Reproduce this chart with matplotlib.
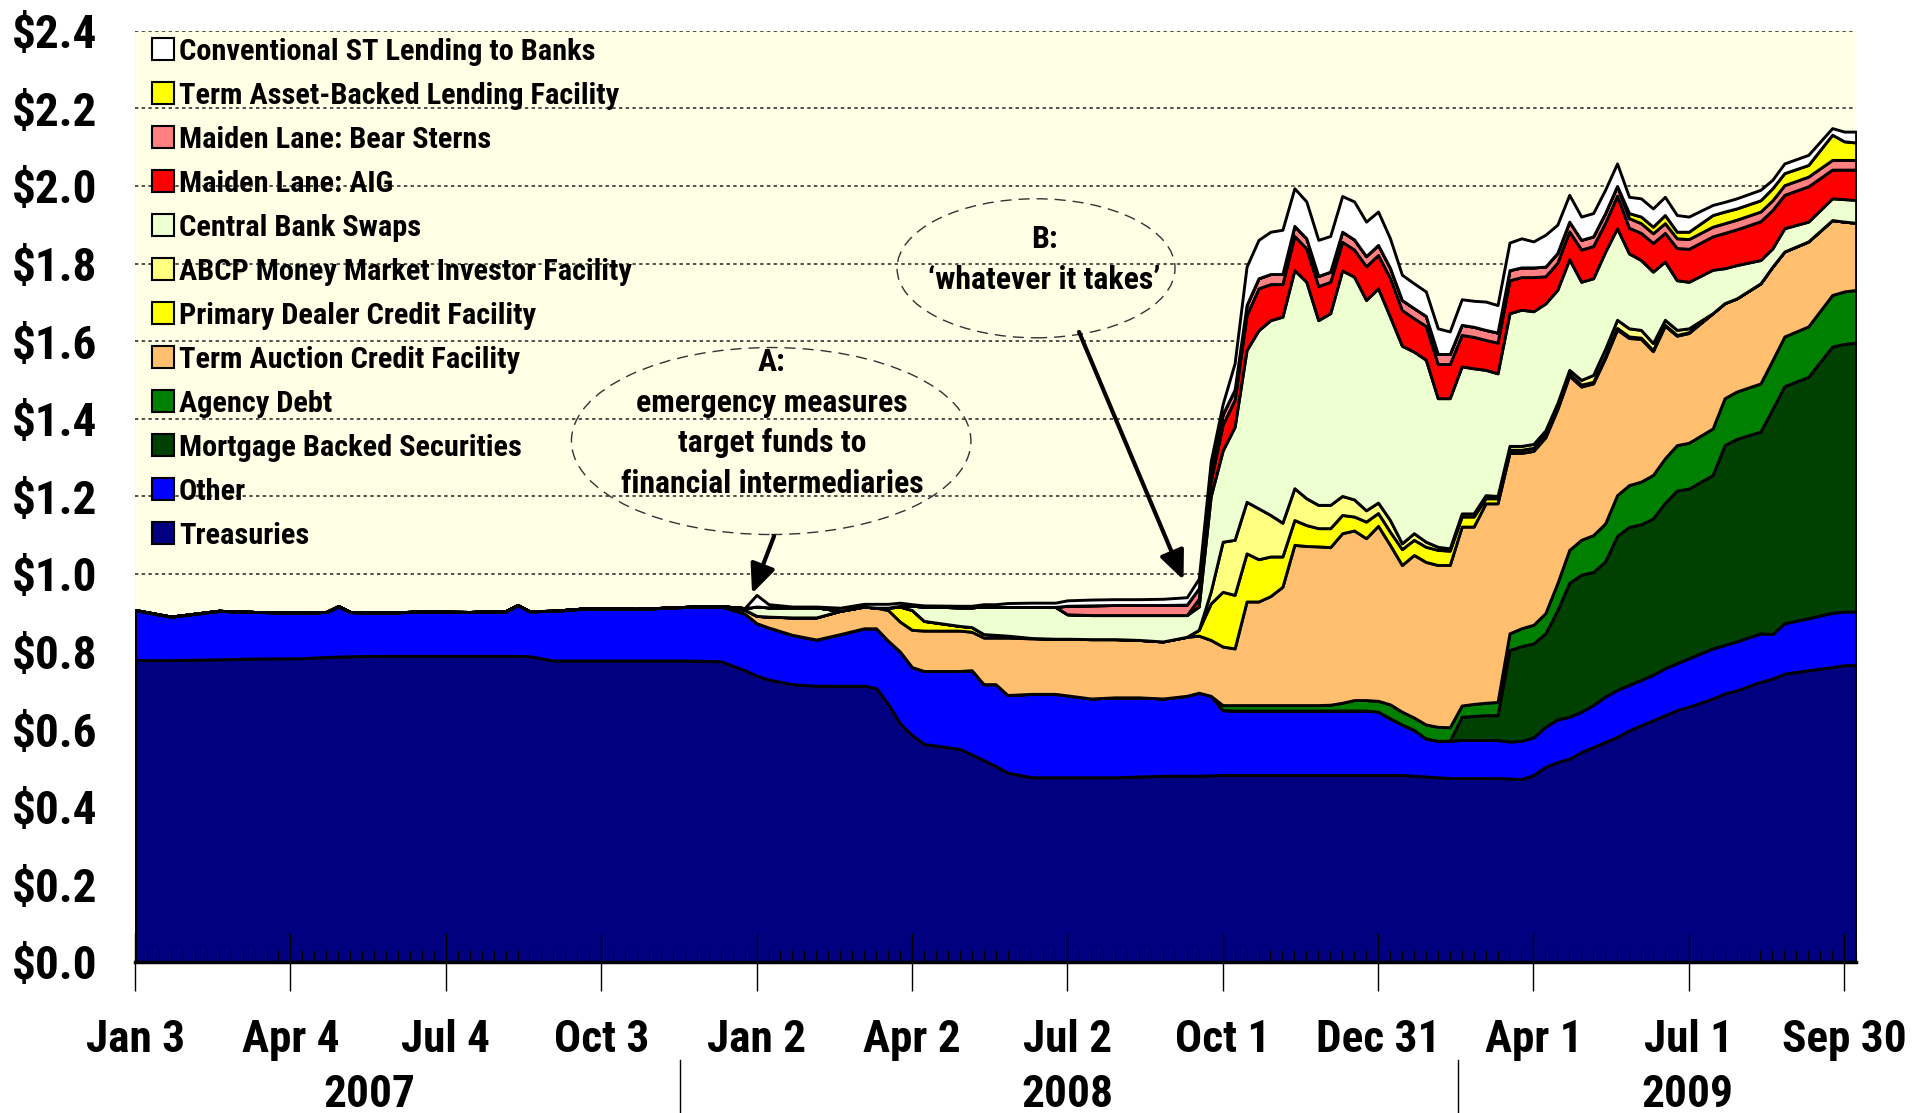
import numpy as np
import pandas as pd
import matplotlib
matplotlib.use("Agg")
import matplotlib.pyplot as plt
import matplotlib.dates as mdates
import matplotlib.transforms as mtransforms
from matplotlib.font_manager import FontProperties
from matplotlib.patches import Ellipse, Patch

# the source uses a tall, narrow bold grotesque
FAM = ['Roboto Condensed', 'Liberation Sans', 'DejaVu Sans']
plt.rcParams['font.family'] = FAM
plt.rcParams['font.weight'] = 'bold'

start = pd.Timestamp('2007-01-03')

weeks = ([0, 3, 7, 10, 14, 16, 17, 18, 20, 24, 28, 31, 32, 33, 35, 38, 42, 46, 49,
          51, 52, 53, 55, 57, 59, 61, 62, 63, 64, 65, 66, 69, 70, 71, 72, 73, 75, 77,
          78, 80, 82, 84, 86, 88, 89, 90]
         + list(range(91, 131))
         + [132, 133, 134, 136, 137, 138, 140, 142, 143, 144])

# $ trillions, bottom of the stack first
treasuries = [0.778, 0.778, 0.780, 0.782, 0.783, 0.786, 0.787, 0.788, 0.789, 0.789,
              0.789, 0.789, 0.789, 0.788, 0.777, 0.777, 0.777, 0.777, 0.775,
              0.752, 0.738, 0.728, 0.716, 0.712, 0.712, 0.712, 0.706, 0.665, 0.615,
              0.585, 0.562, 0.549, 0.535, 0.520, 0.505, 0.488, 0.476, 0.476, 0.476,
              0.476, 0.476, 0.478, 0.480, 0.480, 0.480, 0.481,
              0.482, 0.482, 0.482, 0.482, 0.482, 0.482, 0.482, 0.482, 0.482, 0.482,
              0.482, 0.482, 0.482, 0.482, 0.482, 0.482, 0.480, 0.478, 0.476, 0.474,
              0.474, 0.474, 0.474, 0.474, 0.473, 0.471, 0.482, 0.503, 0.515, 0.524,
              0.541, 0.554, 0.567, 0.580, 0.597, 0.610, 0.623, 0.636, 0.649, 0.658,
              0.679, 0.692, 0.700, 0.722, 0.730, 0.743, 0.752, 0.760, 0.765, 0.765]

other = [0.129, 0.112, 0.125, 0.120, 0.118, 0.116, 0.130, 0.114, 0.111, 0.114,
         0.113, 0.115, 0.131, 0.116, 0.128, 0.135, 0.133, 0.138, 0.142,
         0.146, 0.135, 0.134, 0.127, 0.119, 0.133, 0.148, 0.154, 0.163, 0.185,
         0.175, 0.188, 0.201, 0.217, 0.196, 0.211, 0.200, 0.215, 0.215, 0.211,
         0.203, 0.206, 0.204, 0.199, 0.206, 0.214, 0.205,
         0.167, 0.166, 0.166, 0.166, 0.166, 0.166, 0.166, 0.166, 0.166, 0.166,
         0.166, 0.166, 0.166, 0.163, 0.146, 0.130, 0.118, 0.098, 0.094, 0.096,
         0.098, 0.098, 0.098, 0.098, 0.095, 0.099, 0.097, 0.103, 0.110, 0.108,
         0.104, 0.108, 0.117, 0.121, 0.117, 0.117, 0.117, 0.121, 0.121, 0.125,
         0.129, 0.125, 0.126, 0.125, 0.115, 0.130, 0.134, 0.140, 0.138, 0.138]

mbs = ([0] * 46 + [0] * 20 +
       [0.060, 0.062, 0.064, 0.064, 0.236, 0.244, 0.242, 0.241, 0.281, 0.345,
        0.353, 0.343, 0.348, 0.397, 0.407, 0.401, 0.403, 0.426, 0.445, 0.437,
        0.447, 0.515, 0.522, 0.520, 0.580, 0.611, 0.622, 0.686, 0.690, 0.693])

agency = ([0] * 46 +
          [0.013, 0.014, 0.014, 0.014, 0.014, 0.014, 0.014, 0.014, 0.014, 0.015,
           0.020, 0.027, 0.027, 0.028, 0.036, 0.033, 0.032, 0.036, 0.036, 0.035,
           0.029, 0.031, 0.032, 0.034, 0.043, 0.046, 0.048, 0.052, 0.070, 0.085,
           0.090, 0.095, 0.098, 0.105, 0.108, 0.110, 0.112, 0.115, 0.117, 0.118,
           0.120, 0.121, 0.122, 0.124, 0.126, 0.128, 0.130, 0.133, 0.135, 0.136])

taf = ([0] * 19 +
       [0.010, 0.019, 0.028, 0.045, 0.057, 0.060, 0.056, 0.053, 0.079, 0.077,
        0.096, 0.104, 0.104, 0.099, 0.120, 0.120, 0.148, 0.143, 0.142, 0.146,
        0.153, 0.150, 0.148, 0.147, 0.152, 0.147, 0.144,
        0.151, 0.146, 0.267, 0.267, 0.281, 0.305, 0.413, 0.410, 0.409, 0.406,
        0.437, 0.437, 0.417, 0.451, 0.411, 0.378, 0.419, 0.419, 0.417, 0.418,
        0.461, 0.457, 0.514, 0.512, 0.465, 0.452, 0.448, 0.453, 0.448, 0.449,
        0.395, 0.391, 0.426, 0.427, 0.379, 0.368, 0.319, 0.342, 0.282, 0.283,
        0.297, 0.245, 0.240, 0.258, 0.241, 0.219, 0.219, 0.193, 0.180, 0.173])

pdcf = ([0] * 19 + [0] * 8 +
        [0.006, 0.039, 0.051, 0.025, 0.012, 0.012, 0.009, 0.007, 0.005, 0.001,
         0, 0, 0, 0, 0, 0, 0, 0.015, 0.094,
         0.141, 0.138, 0.124, 0.109, 0.102, 0.078, 0.064, 0.054, 0.047, 0.049,
         0.047, 0.036, 0.043, 0.033, 0.034, 0.041, 0.039, 0.039, 0.039, 0.037,
         0.026, 0.026, 0.013, 0.013, 0.008, 0.008, 0.008, 0.008, 0.006, 0.005,
         0.005, 0.004, 0.004, 0.004, 0.004, 0.003, 0.003, 0.002, 0.002, 0.002]
        + [0] * 10)

amlf = ([0] * 45 + [0.031] +
        [0.129, 0.142, 0.133, 0.131, 0.107, 0.087, 0.082, 0.069, 0.060, 0.060,
         0.049, 0.044, 0.029, 0.027, 0.030, 0.015, 0.017, 0.013, 0.008, 0.006,
         0.008, 0.008, 0.008, 0.006, 0.010, 0.010, 0.010, 0.010, 0.010, 0.010,
         0.012, 0.018, 0.020, 0.021, 0.021, 0.020, 0.018, 0.013, 0.013, 0.010]
        + [0] * 10)

swaps = ([0] * 19 +
         [0.004, 0.024, 0.024, 0.026, 0.026, 0, 0, 0, 0, 0.002,
          0.011, 0.037, 0.048, 0.051, 0.071, 0.072, 0.074, 0.080, 0.082, 0.063,
          0.062, 0.062, 0.064, 0.068, 0.056, 0.060, 0.245,
          0.235, 0.291, 0.391, 0.459, 0.502, 0.531, 0.562, 0.558, 0.476, 0.494,
          0.581, 0.574, 0.542, 0.552, 0.524, 0.509, 0.468, 0.469, 0.383, 0.387,
          0.379, 0.374, 0.323, 0.316, 0.342, 0.351, 0.342, 0.327, 0.292, 0.285,
          0.253, 0.249, 0.250, 0.236, 0.193, 0.180, 0.184, 0.150, 0.128, 0.120,
          0.112, 0.090, 0.086, 0.060, 0.047, 0.060, 0.051, 0.056, 0.058, 0.059])

aig = ([0] * 44 + [0.020, 0.040] +
       [0.067, 0.070, 0.090, 0.108, 0.093, 0.084, 0.088, 0.086, 0.088, 0.081,
        0.074, 0.070, 0.087, 0.086, 0.100, 0.092, 0.086, 0.087, 0.088, 0.088,
        0.081, 0.081, 0.077, 0.079, 0.085, 0.084, 0.088, 0.070, 0.070, 0.072,
        0.083, 0.083, 0.075, 0.084, 0.066, 0.070, 0.074, 0.074, 0.083, 0.085,
        0.086, 0.091, 0.092, 0.100, 0.099, 0.086, 0.091, 0.074, 0.076, 0.078])

bear = ([0] * 38 + [0.022, 0.025, 0.026, 0.026, 0.026, 0.027, 0.027, 0.027] +
        [0.027] + [0.026] * 24 + [0.025] * 25)

talf = ([0] * 46 + [0] * 34 +
        [0.013, 0.017, 0.017, 0.021, 0.017, 0.019,
         0.030, 0.030, 0.029, 0.029, 0.031, 0.031, 0.030, 0.065, 0.048, 0.045])

conventional = ([0] * 19 +
                [0, 0.030, 0.008, 0.002, 0.002, 0.008, 0.007, 0.010, 0.010, 0.008,
                 0.004, 0.003, 0.004, 0.004, 0.006, 0.007, 0.010, 0.011, 0.011, 0.014,
                 0.015, 0.015, 0.015, 0.016, 0.019, 0.025, 0.023,
                 0.026, 0.068, 0.099, 0.099, 0.109, 0.114, 0.097, 0.095, 0.093, 0.092,
                 0.092, 0.098, 0.089, 0.086, 0.076, 0.065, 0.064, 0.063, 0.066, 0.058,
                 0.066, 0.067, 0.073, 0.071, 0.071, 0.075, 0.067, 0.082, 0.073, 0.069,
                 0.060, 0.060, 0.060, 0.058, 0.042, 0.047, 0.047, 0.047, 0.043, 0.039,
                 0.026, 0.025, 0.026, 0.027, 0.022, 0.025, 0.026, 0.017, 0.025, 0.028])

labels = ['Treasuries', 'Other', 'Mortgage Backed Securities', 'Agency Debt',
          'Term Auction Credit Facility', 'Primary Dealer Credit Facility',
          'ABCP Money Market Investor Facility', 'Central Bank Swaps',
          'Maiden Lane: AIG', 'Maiden Lane: Bear Sterns',
          'Term Asset-Backed Lending Facility', 'Conventional ST Lending to Banks']
colors = ['#000080', '#0000FF', '#004000', '#008000', '#FFBF6E', '#FFFF00',
          '#FFFF80', '#EEFFD2', '#FF0000', '#FF8080', '#FFFF00', '#FFFFFF']
series = [treasuries, other, mbs, agency, taf, pdcf, amlf, swaps, aig, bear, talf,
          conventional]
for name, s in zip(labels, series):
    assert len(s) == len(weeks), (name, len(s))

tick_labels = ['Jan 3', 'Apr 4', 'Jul 4', 'Oct 3', 'Jan 2', 'Apr 2', 'Jul 2',
               'Oct 1', 'Dec 31', 'Apr 1', 'Jul 1', 'Sep 30']
tick_weeks = [0, 13, 26, 39, 52, 65, 78, 91, 104, 117, 130, 143]
years = ['2007', '2008', '2009']
year_weeks = [19.6, 78.0, 129.9]
year_breaks = [45.6, 110.7]
note_a = 'A:\nemergency measures\ntarget funds to\nfinancial intermediaries'
note_b = 'B:\n\u2018whatever it takes\u2019'

def wk(w):
    return mdates.date2num(start + pd.to_timedelta(np.asarray(w) * 7, unit='D'))

x = wk(weeks)

fig = plt.figure(figsize=(19.27, 11.13), dpi=100)
renderer = fig.canvas.get_renderer()

def measure(s, size):
    prop = FontProperties(family=FAM, weight='bold', size=size)
    return renderer.get_text_width_height_descent(s, prop, ismath=False)

def fit(s, px):
    return 10 * px / measure(s, 10)[0]

# sizes chosen so that text widths match the reference (pixels)
ytick_fs = fit('$2.4', 86)
xtick_fs = fit('Sep 30', 125)
year_fs = fit('2007', 92)
leg_fs = fit('Conventional ST Lending to Banks', 417)
note_fs = fit('financial intermediaries', 303)

# axes geometry in pixels: left 135, right 1856, top 30.7, bottom 962
AX_B, AX_H = 962.0, 931.3
def ay(py):
    return (AX_B - py) / AX_H

ax = fig.add_axes([0.0701, 0.1357, 0.8931, 0.8367])
ax.set_facecolor('#FFFFE6')

for v in np.arange(0.2, 2.41, 0.2):
    ax.axhline(v, color='#222222', lw=1.1, ls=(0, (2.2, 2.2)), zorder=0.5)

ax.stackplot(x, *series, colors=colors, edgecolor='black', linewidth=2.1, zorder=1)

ax.set_xlim(wk(0), wk(144))
ax.set_ylim(0, 2.4)
ax.set_yticks(np.arange(0, 2.41, 0.2))
ax.set_yticklabels([r'\$%.1f' % v for v in np.arange(0, 2.41, 0.2)])
ax.set_xticks(wk(tick_weeks))
ax.set_xticklabels(tick_labels)
ax.set_xticks(wk(np.arange(0, 145)), minor=True)

# x labels: caps centred 74 px under the axis
_, lh, ld = measure('lp', xtick_fs)
cap = measure('H', xtick_fs)[1]
xpad = (1036 - AX_B - 29 - (lh - ld) + cap / 2) * 0.72
ax.tick_params(axis='x', which='major', direction='inout', length=42, width=1,
               pad=xpad, labelsize=xtick_fs)
ax.tick_params(axis='x', which='minor', direction='in', length=8.5, width=0.8)
ax.tick_params(axis='y', length=0, pad=27, labelsize=ytick_fs)

for side in ['top', 'right', 'left']:
    ax.spines[side].set_visible(False)
ax.spines['bottom'].set_linewidth(2.5)

trans = mtransforms.blended_transform_factory(ax.transData, ax.transAxes)
ycap = measure('2', year_fs)[1]
for name, w in zip(years, year_weeks):
    ax.text(wk(w), ay(1091 + ycap / 2), name, transform=trans, ha='center',
            va='baseline', fontsize=year_fs, fontweight='bold')
for w in year_breaks:
    ax.plot([wk(w), wk(w)], [-0.105, -0.17], transform=trans, clip_on=False,
            color='black', lw=1)

# legend: rows 44 px apart, first row centred 51.6 px from the top of the image
fs_px = leg_fs * 100 / 72
_, lh, ld = measure('lp', leg_fs)
row_h = max(lh, 22)
handles = [Patch(facecolor=c, edgecolor='black', linewidth=1.5, label=l)
           for l, c in zip(labels[::-1], colors[::-1])]
ax.legend(handles=handles, loc='upper left',
          bbox_to_anchor=(0.0099, ay(51.6 - row_h / 2)),
          frameon=False, prop={'family': FAM, 'size': leg_fs, 'weight': 'bold'},
          labelspacing=(44 - row_h) / fs_px, handlelength=22 / fs_px,
          handleheight=22 / fs_px, handletextpad=5 / fs_px, borderpad=0,
          borderaxespad=0)

# annotations (baseline alignment of a multi-line text uses its last line)
_, lh, ld = measure('lp', note_fs)
ncap = measure('A', note_fs)[1]
dash = (0, (8, 5))
ax.add_patch(Ellipse((0.3696, 0.5594), 0.2321, 0.2008, transform=ax.transAxes,
                     fill=False, ls=dash, lw=1, edgecolor='#333333', zorder=6))
ax.add_patch(Ellipse((0.5235, 0.7449), 0.1615, 0.1493, transform=ax.transAxes,
                     fill=False, ls=dash, lw=1, edgecolor='#333333', zorder=6))
ax.text(0.370, ay(481.8 + ncap / 2), note_a, transform=ax.transAxes, ha='center',
        va='baseline', fontsize=note_fs, fontweight='bold',
        linespacing=0.881 * 39.3 / (lh - ld), zorder=7)
ax.text(0.5285, ay(277.8 + ncap / 2), note_b, transform=ax.transAxes, ha='center',
        va='baseline', fontsize=note_fs, fontweight='bold',
        linespacing=0.905 * 38.1 / (lh - ld), zorder=7)

arrow = dict(arrowstyle='-|>,head_length=0.8,head_width=0.35', color='black', lw=3,
             shrinkA=0, shrinkB=0, mutation_scale=22)
ax.annotate('', xy=(0.3585, 0.3956), xytext=(0.3713, 0.4574),
            xycoords='axes fraction', textcoords='axes fraction', arrowprops=arrow,
            zorder=7)
ax.annotate('', xy=(0.6092, 0.4102), xytext=(0.5485, 0.6765),
            xycoords='axes fraction', textcoords='axes fraction', arrowprops=arrow,
            zorder=7)

fig.savefig('out.png', dpi=100, facecolor='white')
